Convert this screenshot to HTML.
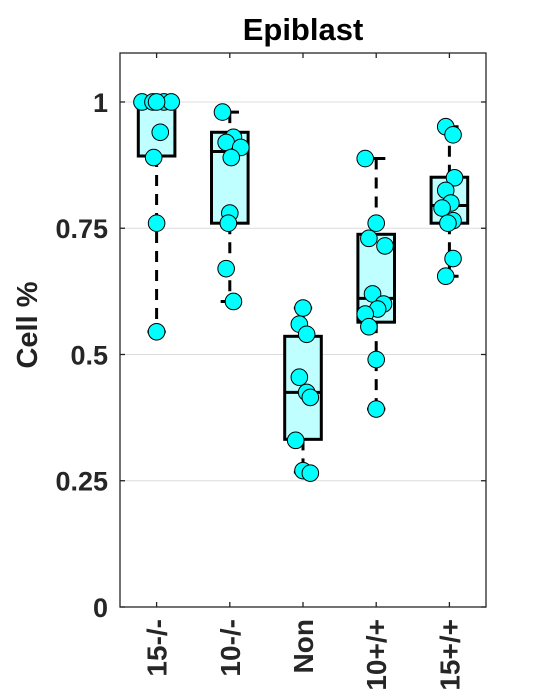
<!DOCTYPE html>
<html><head><meta charset="utf-8"><style>
body{margin:0;background:#fff;}
svg{display:block;font-family:"Liberation Sans",Arial,sans-serif;}
</style></head><body>
<svg id="chart" width="537" height="698" viewBox="0 0 537 698">
<text x="303" y="40" text-anchor="middle" font-size="31" font-weight="bold">Epiblast</text>
<text transform="translate(37,325) rotate(-90)" text-anchor="middle" font-size="29" font-weight="bold" fill="#222">Cell %</text>
<g id="grid"></g><g id="marks"></g><g id="axes"></g>
</svg>
<script>
const categories=["15-/-","10-/-","Non","10+/+","15+/+"];
const q1=[0.893,0.76,0.332,0.564,0.76];
const q3=[1.0,0.94,0.536,0.738,0.851];
const medians=[1.0,0.902,0.425,0.611,0.795];
const whiskLo=[0.545,0.605,0.267,0.392,0.655];
const whiskHi=[1.0,0.98,0.592,0.888,0.951];
const points=[
 [1,1,1,1,1,0.94,0.89,0.76,0.545],
 [0.98,0.93,0.92,0.91,0.89,0.78,0.76,0.67,0.605],
 [0.592,0.56,0.54,0.455,0.425,0.415,0.33,0.27,0.265],
 [0.888,0.76,0.73,0.715,0.62,0.60,0.59,0.58,0.555,0.49,0.392],
 [0.951,0.935,0.85,0.825,0.80,0.79,0.765,0.76,0.69,0.655]];
const jitter=[
 [-0.2,-0.05,0.1,0.2,0.0,0.05,-0.04,0.0,0.0],
 [-0.1,0.05,-0.05,0.15,0.02,0.0,-0.02,-0.05,0.05],
 [0.0,-0.05,0.05,-0.05,0.05,0.1,-0.1,0.0,0.1],
 [-0.15,0.0,-0.1,0.12,-0.05,0.1,0.02,-0.15,-0.1,0.0,0.0],
 [-0.05,0.05,0.07,-0.05,0.02,-0.1,0.05,-0.02,0.05,-0.05]];
const yTicks=[0,0.25,0.5,0.75,1];
const yTickLabels=["0","0.25","0.5","0.75","1"];
const L=120,R=486,T=53,B=607;
const ymin=0,ymax=1.097;
const X=i=>L+(i+0.5)*(R-L)/categories.length;
const Y=v=>B-(v-ymin)/(ymax-ymin)*(B-T);
const ns="http://www.w3.org/2000/svg";
function mk(parent,tag,attrs){const e=document.createElementNS(ns,tag);for(const k in attrs)e.setAttribute(k,attrs[k]);document.getElementById(parent).appendChild(e);return e;}
yTicks.forEach((t,i)=>{
 if(t>0){const g=mk('grid','line',{x1:L,x2:R,y1:Y(t),y2:Y(t),stroke:'#dcdcdc','stroke-width':1});
 
 }
 const tk=mk('axes','line',{x1:L,x2:L+5,y1:Y(t),y2:Y(t),stroke:'#222','stroke-width':1.3});
 
 
 const tk2=mk('axes','line',{x1:R-5,x2:R,y1:Y(t),y2:Y(t),stroke:'#222','stroke-width':1.3});
 
 
 const tx=mk('axes','text',{x:L-12,y:Y(t)+10,'text-anchor':'end','font-size':27,'font-weight':'bold',fill:'#262626'});
 tx.textContent=yTickLabels[i];
 
 
});
const w=(R-L)/categories.length*0.25;
categories.forEach((c,i)=>{
 const x=X(i);
 const bx=mk('marks','rect',{x:x-w,y:Y(q3[i]),width:2*w,height:Y(q1[i])-Y(q3[i]),fill:'#c0ffff',stroke:'#000','stroke-width':3});
 
 
 [[whiskHi[i],q3[i]],[q1[i],whiskLo[i]]].forEach(p=>{
  const l=mk('marks','line',{x1:x,x2:x,y1:Y(p[0]),y2:Y(p[1]),stroke:'#000','stroke-width':3,'stroke-dasharray':'11,8'});
  
  
 });
 [whiskHi[i],whiskLo[i]].forEach(v=>{
  const l=mk('marks','line',{x1:x-w/2,x2:x+w/2,y1:Y(v),y2:Y(v),stroke:'#000','stroke-width':3});
  
  
 });
 const m=mk('marks','line',{x1:x-w,x2:x+w,y1:Y(medians[i]),y2:Y(medians[i]),stroke:'#000','stroke-width':3});
 
 
 points[i].forEach((v,j)=>{
  const ci=mk('marks','circle',{cx:X(i+jitter[i][j]),cy:Y(v),r:8.3,fill:'#00ffff',stroke:'#000','stroke-width':1});
  
  
 });
 const tk=mk('axes','line',{x1:x,x2:x,y1:B,y2:B-5,stroke:'#222','stroke-width':1.3});
 
 
 const tkt=mk('axes','line',{x1:x,x2:x,y1:T,y2:T+5,stroke:'#222','stroke-width':1.3});
 
 
 const tx=mk('axes','text',{transform:`translate(${x+10},${B+12}) rotate(-90)`,'text-anchor':'end','font-size':28,'font-weight':'bold',fill:'#262626'});
 tx.textContent=c;
 
 
});
const fr=mk('axes','rect',{x:L,y:T,width:R-L,height:B-T,fill:'none',stroke:'#262626','stroke-width':1.3});


</script>
</body></html>
